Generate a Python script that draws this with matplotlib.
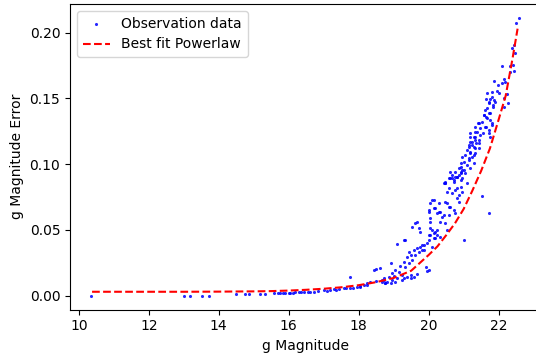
import matplotlib
matplotlib.use("Agg")
import matplotlib.pyplot as plt

# Observation data (g magnitude, g magnitude error)
obs_mag = [
    10.36, 13.00, 13.19, 13.53, 13.71,
    14.48, 14.76, 14.86, 15.19, 15.33, 15.57, 15.70, 15.76, 15.85, 15.90,
    16.00, 16.05, 16.12, 16.19, 16.28, 16.36, 16.43, 16.55, 16.62, 16.71,
    16.85, 17.00, 17.10, 17.19, 17.29, 17.35, 17.45, 17.57, 17.65, 17.76,
    17.85, 17.95, 18.05, 18.05, 18.14, 18.24, 18.24,
    17.76, 18.43,
    18.33, 18.48, 18.48, 18.62, 18.67, 18.67, 18.71, 18.71, 18.76, 18.76,
    18.81, 18.86, 18.91, 18.91, 18.95, 18.95, 19.00, 19.05, 19.05, 19.10,
    19.10, 19.14, 19.19, 19.24, 19.24, 19.29, 19.29, 19.29, 19.33, 19.33,
    19.38, 19.38, 19.43, 19.43, 19.48, 19.48, 19.48, 19.53, 19.53, 19.57,
    19.57, 19.62, 19.62, 19.67, 19.67, 19.67, 19.71, 19.71, 19.76, 19.76,
    19.81, 19.81, 19.86, 19.86, 19.91, 19.95, 19.95, 20.00,
    20.00, 20.00, 20.00, 20.00, 20.05, 20.05, 20.05, 20.05, 20.05, 20.10,
    20.10, 20.10, 20.14, 20.14, 20.14, 20.14, 20.19, 20.19, 20.19, 20.24,
    20.24, 20.24, 20.29, 20.29, 20.33, 20.33, 20.33, 20.38, 20.43, 20.43,
    20.48, 20.48, 20.48, 20.48, 20.48, 20.53, 20.53, 20.53, 20.57, 20.57,
    20.57, 20.57, 20.62, 20.62, 20.62,
    20.67, 20.67, 20.67, 20.71, 20.71, 20.71, 20.76, 20.76, 20.76, 20.76,
    20.81, 20.81, 20.81, 20.81, 20.86, 20.86, 20.86, 20.86, 20.91, 20.91,
    20.91, 20.91, 20.91, 20.91, 20.95, 20.95, 20.95, 20.95, 21.00, 21.00,
    21.00,
    21.05, 21.05, 21.10, 21.10, 21.10, 21.14, 21.14, 21.14, 21.14, 21.19,
    21.19, 21.19, 21.19, 21.19, 21.19, 21.24, 21.24, 21.24, 21.29, 21.29,
    21.29, 21.29, 21.31, 21.33, 21.33, 21.33, 21.33, 21.33, 21.36, 21.38,
    21.40, 21.43, 21.43, 21.43, 21.43, 21.48, 21.48,
    21.53, 21.53, 21.55, 21.57, 21.59, 21.62, 21.62, 21.63, 21.65, 21.65,
    21.67, 21.67, 21.67, 21.71, 21.71, 21.71, 21.71, 21.71, 21.71, 21.76,
    21.76, 21.76, 21.76, 21.81, 21.81, 21.81, 21.81, 21.84, 21.84, 21.86,
    21.86, 21.90, 21.95, 21.98,
    22.00, 22.10, 22.10, 22.14, 22.14, 22.16, 22.17, 22.24, 22.26, 22.31,
    22.31, 22.38, 22.41, 22.43, 22.45, 22.48, 22.49, 22.57,
]
obs_err = [
    0.0000, 0.0000, 0.0000, 0.0000, 0.0000,
    0.0013, 0.0011, 0.0013, 0.0013, 0.0015, 0.0018, 0.0020, 0.0018, 0.0020, 0.0022,
    0.0020, 0.0023, 0.0022, 0.0025, 0.0025, 0.0027, 0.0030, 0.0030, 0.0028, 0.0026,
    0.0035, 0.0043, 0.0038, 0.0042, 0.0049, 0.0046, 0.0048, 0.0056, 0.0055, 0.0061,
    0.0060, 0.0065, 0.0068, 0.0076, 0.0081, 0.0094, 0.0081,
    0.0140, 0.0195,
    0.0106, 0.0114, 0.0201, 0.0208, 0.0119, 0.0102, 0.0132, 0.0119, 0.0099, 0.0094,
    0.0102, 0.0140, 0.0094, 0.0246, 0.0170, 0.0120, 0.0150, 0.0106, 0.0195, 0.0132,
    0.0393, 0.0183, 0.0226, 0.0157, 0.0119, 0.0259, 0.0424, 0.0137, 0.0216, 0.0424,
    0.0292, 0.0144, 0.0335, 0.0246, 0.0310, 0.0132, 0.0157, 0.0271, 0.0525, 0.0348,
    0.0144, 0.0310, 0.0551, 0.0360, 0.0563, 0.0163, 0.0335, 0.0513, 0.0373, 0.0487,
    0.0348, 0.0386, 0.0386, 0.0348, 0.0221, 0.0190, 0.0398, 0.0195,
    0.0424, 0.0462, 0.0639, 0.0652, 0.0462, 0.0563, 0.0703, 0.0513, 0.0589, 0.0728,
    0.0500, 0.0373, 0.0437, 0.0728, 0.0665, 0.0475, 0.0665, 0.0487, 0.0437, 0.0627,
    0.0462, 0.0500, 0.0703, 0.0639, 0.0639, 0.0563, 0.0449, 0.0601, 0.0855, 0.0614,
    0.0855, 0.0551, 0.0867, 0.0715, 0.0859, 0.0791, 0.0703, 0.0500, 0.0817, 0.0614,
    0.0893, 0.0677, 0.0943, 0.0677, 0.0893,
    0.0893, 0.0779, 0.0918, 0.0880, 0.0652, 0.0867, 0.0905, 0.0804, 0.0627, 0.0943,
    0.0905, 0.0741, 0.0900, 0.0817, 0.0918, 0.0766, 0.0969, 0.0715, 0.0981, 0.0943,
    0.0829, 0.1007, 0.0931, 0.0880, 0.0956, 0.0893, 0.1057, 0.0791, 0.1019, 0.0424,
    0.0956,
    0.1070, 0.0931, 0.1108, 0.0994, 0.0855, 0.1146, 0.1032, 0.1133, 0.1045, 0.1209,
    0.1095, 0.0969, 0.1171, 0.1083, 0.1235, 0.1171, 0.1057, 0.1146, 0.1133, 0.1007,
    0.1209, 0.1070, 0.1209, 0.1247, 0.1083, 0.1184, 0.1121, 0.1285, 0.1159, 0.1247,
    0.1316, 0.1184, 0.1121, 0.1311, 0.1159, 0.1273, 0.1222,
    0.0758, 0.1323, 0.1235, 0.1374, 0.1374, 0.1412, 0.1285, 0.1496, 0.1357, 0.1285,
    0.1425, 0.1539, 0.1349, 0.1475, 0.1387, 0.1260, 0.0627, 0.1463, 0.1235, 0.1494,
    0.1336, 0.1209, 0.1387, 0.1551, 0.1298, 0.1513, 0.1311, 0.1450, 0.1437, 0.1633,
    0.1488, 0.1475, 0.1559, 0.1602,
    0.1539, 0.1747, 0.1615, 0.1648, 0.1433, 0.1501, 0.1623, 0.1534, 0.1463, 0.1747,
    0.1703, 0.1881, 0.1754, 0.1906, 0.1709, 0.1843, 0.2071, 0.2112,
]

# Best-fit power law curve
fit_mag = [10.38, 12.0, 13.0, 14.0, 15.0, 15.5, 16.0, 16.5, 17.0, 17.5, 18.0,
           18.5, 19.0, 19.5, 20.0, 20.25, 20.5, 20.75, 21.0, 21.25, 21.5,
           21.75, 22.0, 22.2, 22.4, 22.54]
fit_err = [0.0030, 0.0030, 0.0030, 0.0031, 0.0033, 0.0035, 0.0039, 0.0045,
           0.0053, 0.0064, 0.0080, 0.0103, 0.0135, 0.0190, 0.0310, 0.0375,
           0.0460, 0.0550, 0.0660, 0.0800, 0.0950, 0.1120, 0.1340, 0.1520,
           0.1810, 0.2030]

fig = plt.figure(figsize=(5.36, 3.61), dpi=100)
ax = fig.add_axes([70 / 536, (361 - 309.6) / 361, 470 / 536, (309.6 - 4.0) / 361])

ax.scatter(obs_mag, obs_err, s=5, color="blue", alpha=0.85, linewidths=0,
           label="Observation data")
ax.plot(fit_mag, fit_err, "r--", linewidth=1.5, label="Best fit Powerlaw")

ax.set_xlabel("g Magnitude")
ax.set_ylabel("g Magnitude Error")
ax.set_xticks([10, 12, 14, 16, 18, 20, 22])
ax.set_yticks([0.00, 0.05, 0.10, 0.15, 0.20])
ax.legend(loc="upper left")

fig.savefig("out.png", dpi=100)
